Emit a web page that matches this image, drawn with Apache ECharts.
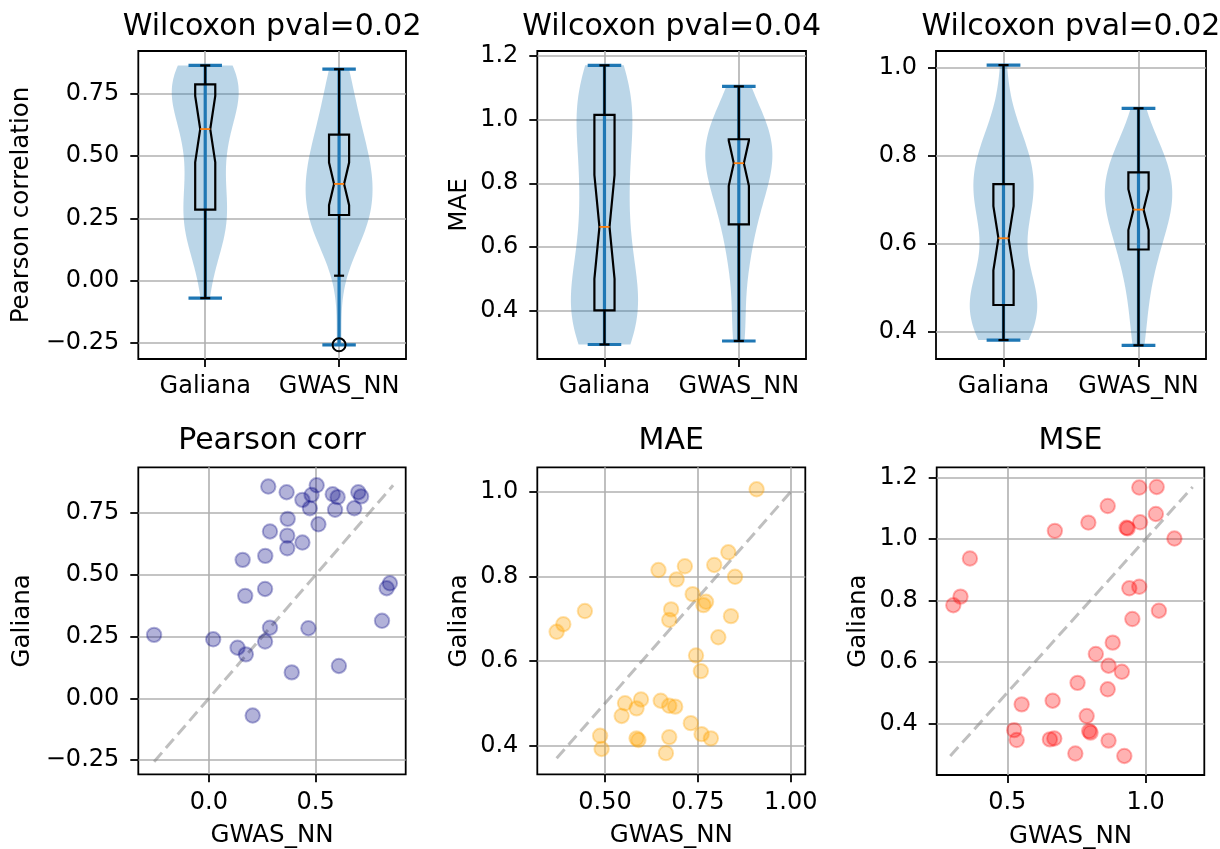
<!DOCTYPE html>
<html><head><meta charset="utf-8">
<script src="https://cdn.jsdelivr.net/npm/echarts@6/dist/echarts.min.js"></script>
<style>html,body{margin:0;padding:0;background:#fff}#c{width:1220px;height:849px}</style>
</head><body><div id="c"></div>
<script>
// ---------------- data ----------------
const groups = ['Galiana', 'GWAS_NN'];
const pvalTitles = ['Wilcoxon pval=0.02', 'Wilcoxon pval=0.04', 'Wilcoxon pval=0.02'];
const scatterTitles = ['Pearson corr', 'MAE', 'MSE'];
const violinYNames = ['Pearson correlation', 'MAE', ''];
const scatterXName = 'GWAS_NN';
const scatterYName = 'Galiana';

// per-sample values (x = GWAS_NN, y = Galiana)
const corrGWAS    = [0.278,0.364,0.505,0.438,0.481,0.473,0.580,0.603,0.591,0.700,0.713,0.681,0.369,0.513,0.286,0.367,0.438,0.367,0.264,0.158,0.263,0.170,0.848,0.833,0.811,-0.257,0.020,0.286,0.466,0.263,0.134,0.173,0.388,0.609,0.205];
const corrGaliana = [0.858,0.835,0.863,0.804,0.824,0.770,0.827,0.815,0.764,0.835,0.818,0.770,0.727,0.705,0.676,0.659,0.631,0.608,0.577,0.561,0.443,0.415,0.466,0.446,0.314,0.257,0.239,0.286,0.284,0.230,0.205,0.178,0.105,0.131,-0.070];

const maeGWAS     = [0.908,0.832,0.794,0.715,0.644,0.693,0.850,0.736,0.772,0.765,0.678,0.673,0.839,0.805,0.446,0.388,0.370,0.745,0.758,0.597,0.554,0.585,0.545,0.650,0.673,0.689,0.731,0.487,0.491,0.585,0.590,0.673,0.664,0.760,0.785];
const maeGaliana  = [1.006,0.857,0.827,0.824,0.815,0.793,0.799,0.758,0.740,0.732,0.722,0.697,0.706,0.656,0.718,0.687,0.669,0.613,0.576,0.509,0.500,0.488,0.470,0.506,0.494,0.492,0.453,0.423,0.392,0.417,0.413,0.420,0.382,0.427,0.417];

const mseGWAS     = [0.977,1.040,0.863,1.037,0.793,0.931,0.935,0.980,0.672,1.104,0.365,0.331,0.305,0.941,0.977,1.048,0.952,0.881,0.820,0.866,0.914,0.754,0.863,0.552,0.664,0.787,0.525,0.534,0.654,0.670,0.796,0.801,0.866,0.746,0.923];
const mseGaliana  = [1.168,1.170,1.108,1.082,1.054,1.037,1.035,1.055,1.027,1.002,0.937,0.813,0.785,0.840,0.845,0.767,0.740,0.663,0.626,0.588,0.568,0.532,0.511,0.462,0.474,0.424,0.378,0.346,0.348,0.351,0.375,0.370,0.344,0.302,0.294];

// tick values and labels
const ticksCorr = [-0.25, 0, 0.25, 0.5, 0.75];
const labelsCorr = ['\u22120.25', '0.00', '0.25', '0.50', '0.75'];
const ticksErr12 = [0.4, 0.6, 0.8, 1.0, 1.2];
const labelsErr12 = ['0.4', '0.6', '0.8', '1.0', '1.2'];
const ticksErr10 = [0.4, 0.6, 0.8, 1.0];
const labelsErr10 = ['0.4', '0.6', '0.8', '1.0'];
const ticksCorrX = [0, 0.5];
const labelsCorrX = ['0.0', '0.5'];
const ticksMaeX = [0.5, 0.75, 1.0];
const labelsMaeX = ['0.50', '0.75', '1.00'];
const ticksMseX = [0.5, 1.0];
const labelsMseX = ['0.5', '1.0'];
const groupTicks = [1, 2];

// ---------------- layout / style ----------------
const FONT = 'DejaVu Sans';
const gridBoxes = [
  [138.3, 51, 267.7, 308],
  [537.3, 51, 268.7, 308],
  [936, 51, 270, 308],
  [138.3, 467.3, 267.4, 307],
  [537.3, 467.3, 268, 307],
  [936.7, 467.3, 267.6, 307.7]
];

const violinPanels = [
  { sets: [corrGaliana, corrGWAS], yRange: [-0.314, 0.921], yt: ticksCorr, yl: labelsCorr, yName: violinYNames[0], gap: 104.6 },
  { sets: [mseGaliana, mseGWAS],   yRange: [0.2485, 1.215], yt: ticksErr12, yl: labelsErr12, yName: violinYNames[1], gap: 65.6 },
  { sets: [maeGaliana, maeGWAS],   yRange: [0.339, 1.038],  yt: ticksErr10, yl: labelsErr10, yName: violinYNames[2], gap: 65.6 }
];
const scatterPanels = [
  { x: corrGWAS, y: corrGaliana, xRange: [-0.331, 0.922], yRange: [-0.308, 0.936], xt: ticksCorrX, xl: labelsCorrX, yt: ticksCorr, yl: labelsCorr, color: 'rgba(0,0,128,0.3)', gap: 103.6 },
  { x: maeGWAS, y: maeGaliana, xRange: [0.318, 1.039], yRange: [0.332, 1.058], xt: ticksMaeX, xl: labelsMaeX, yt: ticksErr10, yl: labelsErr10, color: 'rgba(255,165,0,0.33)', gap: 65.6 },
  { x: mseGWAS, y: mseGaliana, xRange: [0.245, 1.212], yRange: [0.232, 1.234], xt: ticksMseX, xl: labelsMseX, yt: ticksErr12, yl: labelsErr12, color: 'rgba(255,0,0,0.3)', gap: 65.6 }
];

// ---------------- statistics ----------------
function pct(s, p) {
  const idx = p * (s.length - 1), lo = Math.floor(idx), hi = Math.ceil(idx);
  return s[lo] + (s[hi] - s[lo]) * (idx - lo);
}
function boxStats(arr) {
  const s = arr.slice().sort((a, b) => a - b), n = s.length;
  const q1 = pct(s, 0.25), med = pct(s, 0.5), q3 = pct(s, 0.75), iqr = q3 - q1;
  const loF = q1 - 1.5 * iqr, hiF = q3 + 1.5 * iqr;
  const inside = s.filter(v => v >= loF && v <= hiF);
  const notch = 1.57 * iqr / Math.sqrt(n);
  return { q1, med, q3, wlo: inside[0], whi: inside[inside.length - 1],
           cilo: med - notch, cihi: med + notch, fliers: s.filter(v => v < loF || v > hiF) };
}
function kde(values) {
  const n = values.length;
  const mean = values.reduce((a, b) => a + b, 0) / n;
  const sd = Math.sqrt(values.reduce((a, b) => a + (b - mean) * (b - mean), 0) / (n - 1));
  const bw = sd * Math.pow(n, -0.2);
  const lo = Math.min(...values), hi = Math.max(...values);
  const coords = [], dens = [];
  for (let j = 0; j < 100; j++) {
    const y = lo + (hi - lo) * j / 99;
    let sum = 0;
    for (const v of values) sum += Math.exp(-0.5 * ((y - v) / bw) ** 2);
    coords.push(y); dens.push(sum);
  }
  const m = Math.max(...dens);
  return { coords, half: dens.map(d => 0.25 * d / m), lo, hi };
}

// ---------------- option ----------------
const txt = { color: '#000', fontFamily: FONT, fontSize: 24 };
function fmt(ticks, labels) {
  return v => { const i = ticks.findIndex(t => Math.abs(t - v) < 1e-9); return i < 0 ? '' : labels[i]; };
}
function mkAxis(gi, range, ticks, labels, isX, name, gap) {
  return {
    type: 'value', gridIndex: gi, min: range[0], max: range[1],
    name: name || '', nameLocation: 'middle', nameGap: gap, nameMoveOverlap: false,
    nameTextStyle: Object.assign({}, txt, { fontSize: 24.5 }),
    axisLine: { show: false, onZero: false },
    axisTick: { show: true, inside: false, length: 8, customValues: ticks, lineStyle: { color: '#000', width: 1.8 } },
    axisLabel: Object.assign({ show: true, margin: isX ? 16 : 19, customValues: ticks, formatter: fmt(ticks, labels) }, txt),
    splitLine: { show: true, lineStyle: { color: '#b0b0b0', width: 1.6 } }
  };
}

const grid = gridBoxes.map(b => ({
  left: b[0], top: b[1], width: b[2], height: b[3], show: true,
  borderColor: '#000', borderWidth: 1.8, backgroundColor: 'transparent', outerBoundsMode: 'none', containLabel: false
}));
const xAxis = [], yAxis = [], series = [], title = [];
const titleStyle = { color: '#000', fontFamily: FONT, fontSize: 30, fontWeight: 'normal' };

violinPanels.forEach((p, gi) => {
  xAxis.push(mkAxis(gi, [0.5, 2.5], groupTicks, groups, true, '', 40));
  yAxis.push(mkAxis(gi, p.yRange, p.yt, p.yl, false, p.yName, p.gap));
  const kd = p.sets.map(kde);
  const bs = p.sets.map(boxStats);
  const base = { xAxisIndex: gi, yAxisIndex: gi, silent: true, animation: false, data: [[1], [2]] };
  series.push(Object.assign({}, base, {
    type: 'custom', z: 2,
    renderItem(params, api) {
      const k = kd[params.dataIndex], pos = groupTicks[params.dataIndex], pts = [];
      for (let j = 0; j < k.coords.length; j++) pts.push(api.coord([pos - k.half[j], k.coords[j]]));
      for (let j = k.coords.length - 1; j >= 0; j--) pts.push(api.coord([pos + k.half[j], k.coords[j]]));
      return { type: 'polygon', shape: { points: pts }, style: { fill: 'rgba(31,119,180,0.3)' } };
    }
  }));
  series.push(Object.assign({}, base, {
    type: 'custom', z: 3,
    renderItem(params, api) {
      const k = kd[params.dataIndex], pos = groupTicks[params.dataIndex];
      const seg = (a, b) => { const A = api.coord(a), B = api.coord(b);
        return { type: 'line', shape: { x1: A[0], y1: A[1], x2: B[0], y2: B[1] }, style: { stroke: '#1f77b4', lineWidth: 3.2 } }; };
      return { type: 'group', children: [
        seg([pos, k.lo], [pos, k.hi]),
        seg([pos - 0.125, k.lo], [pos + 0.125, k.lo]),
        seg([pos - 0.125, k.hi], [pos + 0.125, k.hi])
      ] };
    }
  }));
  series.push(Object.assign({}, base, {
    type: 'custom', z: 4,
    renderItem(params, api) {
      const s = bs[params.dataIndex], pos = groupTicks[params.dataIndex];
      const L = pos - 0.075, R = pos + 0.075, nL = pos - 0.0375, nR = pos + 0.0375;
      const c = v => api.coord(v);
      const pts = [[L, s.q1], [R, s.q1], [R, s.cilo], [nR, s.med], [R, s.cihi], [R, s.q3], [L, s.q3], [L, s.cihi], [nL, s.med], [L, s.cilo]].map(c);
      const seg = (a, b, col, w) => { const A = c(a), B = c(b);
        return { type: 'line', shape: { x1: A[0], y1: A[1], x2: B[0], y2: B[1] }, style: { stroke: col, lineWidth: w } }; };
      return { type: 'group', children: [
        { type: 'polygon', shape: { points: pts }, style: { fill: null, stroke: '#000', lineWidth: 2.2 } },
        seg([pos, s.q1], [pos, s.wlo], '#000', 2.2),
        seg([pos, s.q3], [pos, s.whi], '#000', 2.2),
        seg([nL, s.wlo], [nR, s.wlo], '#000', 2.2),
        seg([nL, s.whi], [nR, s.whi], '#000', 2.2),
        seg([nL, s.med], [nR, s.med], '#ff7f0e', 1.8)
      ] };
    }
  }));
  const fl = [];
  bs.forEach((s, i) => s.fliers.forEach(v => fl.push([groupTicks[i], v])));
  series.push({ type: 'scatter', xAxisIndex: gi, yAxisIndex: gi, z: 5, silent: true, animation: false,
    symbol: 'circle', symbolSize: 13, data: fl,
    itemStyle: { color: 'rgba(0,0,0,0)', borderColor: '#000', borderWidth: 2, opacity: 1 } });
  const b = gridBoxes[gi];
  title.push({ text: pvalTitles[gi], left: b[0] + b[2] / 2, top: 12, textAlign: 'center', padding: 0, textStyle: titleStyle });
});

scatterPanels.forEach((p, k) => {
  const gi = k + 3;
  xAxis.push(mkAxis(gi, p.xRange, p.xt, p.xl, true, scatterXName, 49));
  yAxis.push(mkAxis(gi, p.yRange, p.yt, p.yl, false, scatterYName, p.gap));
  const all = p.x.concat(p.y);
  const lo = Math.min(...all), hi = Math.max(...all);
  series.push({ type: 'line', xAxisIndex: gi, yAxisIndex: gi, z: 2, silent: true, animation: false,
    symbol: 'none', data: [[lo, lo], [hi, hi]],
    lineStyle: { color: 'rgba(128,128,128,0.5)', width: 3, type: [12, 6] } });
  series.push({ type: 'scatter', xAxisIndex: gi, yAxisIndex: gi, z: 3, silent: true, animation: false,
    symbol: 'circle', symbolSize: 14.4,
    data: p.x.map((v, i) => [v, p.y[i]]),
    itemStyle: { color: p.color, borderColor: p.color, borderWidth: 2, opacity: 1 } });
  const b = gridBoxes[gi];
  title.push({ text: scatterTitles[k], left: b[0] + b[2] / 2, top: 426, textAlign: 'center', padding: 0, textStyle: titleStyle });
});

const chart = echarts.init(document.getElementById('c'), null, { renderer: 'canvas' });
chart.setOption({ animation: false, backgroundColor: '#fff', title, grid, xAxis, yAxis, series });
</script>
</body></html>
